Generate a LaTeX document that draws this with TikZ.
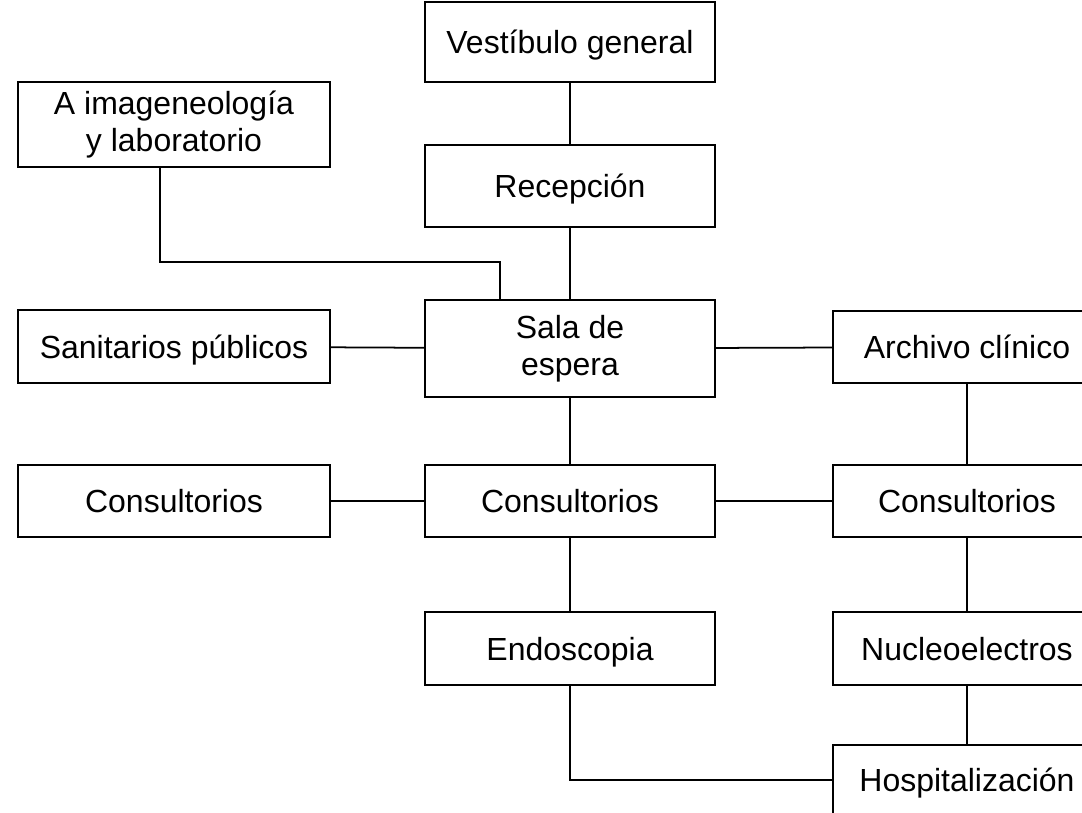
\documentclass[tikz,border=0pt]{standalone}
\usepackage{fontspec}
\setmainfont{Liberation Sans}
\usepackage{tikz}

\begin{document}
\begin{tikzpicture}[
    room/.style={draw, line width=1pt, align=center, inner sep=0pt,
        font=\fontsize{18.2}{21}\selectfont},
    oneline/.style={text height=15.5pt, text depth=2pt},
    link/.style={line width=1pt}
  ]
    \clip (0, 0) rectangle (21.64, -16.24);
    \useasboundingbox (0, 0) rectangle (21.64, -16.24);

    \node[room, oneline, minimum width=5.8cm, minimum height=1.6cm] at (11.4, -0.84) (vest) {Vestíbulo general};
    \node[room, minimum width=6.24cm, minimum height=1.7cm] at (3.48, -2.49) (aimg) {A imageneología\\y laboratorio};
    \node[room, oneline, minimum width=5.8cm, minimum height=1.64cm] at (11.4, -3.72) (recep) {Recepción};
    \node[room, minimum width=5.8cm, minimum height=1.94cm] at (11.4, -6.97) (sala) {Sala de\\espera};
    \node[room, oneline, minimum width=6.24cm, minimum height=1.46cm] at (3.48, -6.93) (sanit) {Sanitarios públicos};
    \node[room, oneline, minimum width=5.36cm, minimum height=1.44cm] at (19.34, -6.94) (archivo) {Archivo clínico};
    \node[room, oneline, minimum width=6.24cm, minimum height=1.44cm] at (3.48, -10.02) (consl) {Consultorios};
    \node[room, oneline, minimum width=5.8cm, minimum height=1.44cm] at (11.4, -10.02) (consc) {Consultorios};
    \node[room, oneline, minimum width=5.36cm, minimum height=1.44cm] at (19.34, -10.02) (consr) {Consultorios};
    \node[room, oneline, minimum width=5.8cm, minimum height=1.46cm] at (11.4, -12.97) (endo) {Endoscopia};
    \node[room, oneline, minimum width=5.36cm, minimum height=1.46cm] at (19.34, -12.97) (nucleo) {Nucleoelectros};
    \node[room, oneline, minimum width=5.36cm, minimum height=1.4cm] at (19.34, -15.6) (hosp) {Hospitalización};

    % corridors
    \draw[link] (vest) -- (recep);
    \draw[link] (recep) -- (sala);
    \draw[link] (sanit) -- (sala);
    \draw[link] (sala) -- (archivo);
    \draw[link] (sala) -- (consc);
    \draw[link] (consl) -- (consc);
    \draw[link] (consc) -- (consr);
    \draw[link] (archivo) -- (consr);
    \draw[link] (consc) -- (endo);
    \draw[link] (consr) -- (nucleo);
    \draw[link] (nucleo) -- (hosp);
    \draw[link] (endo.south) |- (hosp.west);

    % to imaging
    \coordinate (imgturn) at (3.2, -5.24);
    \coordinate (salaturn) at (10.0, -5.24);
    \draw[link] (aimg.south -| imgturn) -- (imgturn) -- (salaturn) -- (sala.north -| salaturn);
\end{tikzpicture}
\end{document}
